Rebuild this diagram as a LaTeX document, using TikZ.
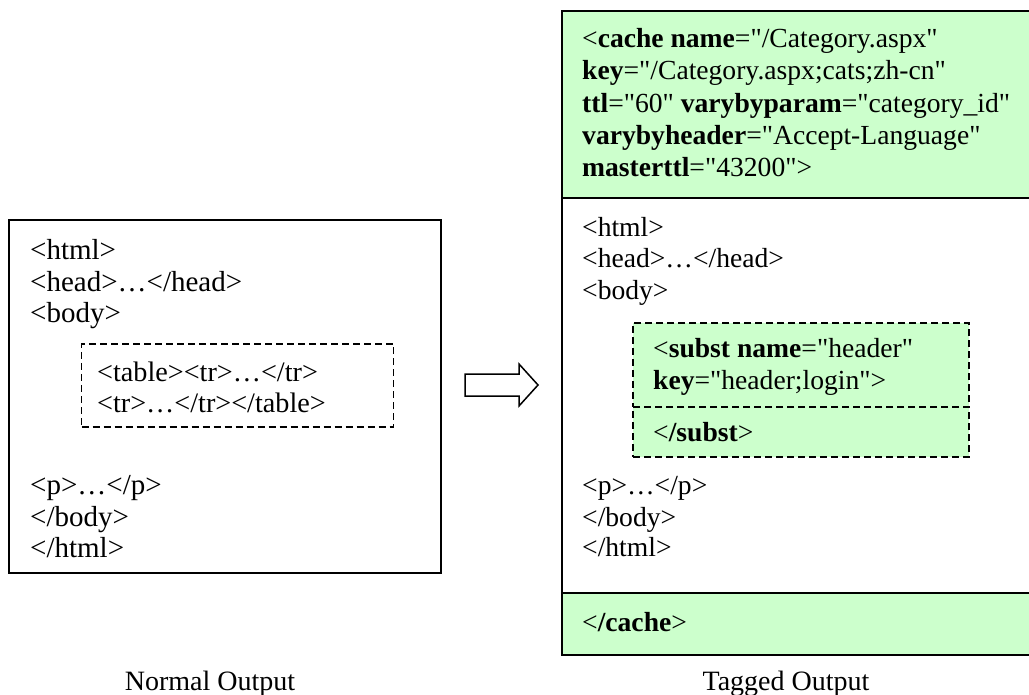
\documentclass[tikz,border=0pt]{standalone}
\usepackage{fontspec}
\setmainfont{Liberation Serif}[Ligatures=TeXOff]
\newcommand{\dq}{\symbol{34}}
\definecolor{tagfill}{HTML}{CCFFCC}
\tikzset{
  ln/.style={anchor=base west, inner sep=0pt, font=\fontsize{29}{31.5}\selectfont},
  lnsmall/.style={anchor=base west, inner sep=0pt, font=\fontsize{28.2}{31}\selectfont},
  lnright/.style={anchor=base west, inner sep=0pt, font=\fontsize{27.6}{32}\selectfont},
  captext/.style={anchor=base, inner sep=0pt, font=\fontsize{28}{30}\selectfont},
  solidbox/.style={draw=black, line width=1.5pt, inner sep=0pt},
  dashbox/.style={draw=black, line width=1.5pt, dash pattern=on 7pt off 4pt, inner sep=0pt},
  greenbox/.style={fill=tagfill, draw=black, line width=1.5pt, inner sep=0pt},
}
\begin{document}
\begin{tikzpicture}[x=1pt,y=-1pt]
\useasboundingbox (0,0) rectangle (1029,695);

% ---------- Left: Normal output ----------
\node[solidbox, minimum width=432pt, minimum height=353pt] (normal) at (225,396.5) {};
\node[dashbox, minimum width=312pt, minimum height=83pt] (table) at (237.5,385.5) {};
\node[ln] (n1) at (30,259.5) {<html>};
\node[ln] (n2) at (30,291.5) {<head>…</head>};
\node[ln] (n3) at (30,322.5) {<body>};
\node[lnsmall] (t1) at (97,381.5) {<table><tr>…</tr>};
\node[lnsmall] (t2) at (97,412.5) {<tr>…</tr></table>};
\node[ln] (n4) at (30,494.5) {<p>…</p>};
\node[ln] (n5) at (30,526.5) {</body>};
\node[ln] (n6) at (30,557.5) {</html>};
\node[captext] (capn) at (210,690) {Normal Output};

% ---------- Arrow ----------
\draw[line width=1.5pt, fill=white, line join=miter]
  (465,374) -- (519,374) -- (519,364) -- (538,385) -- (519,406) -- (519,396) -- (465,396) -- cycle;

% ---------- Right: Tagged output ----------
\node[solidbox, minimum width=475pt, minimum height=644pt] (tagged) at (799.5,333) {};
\node[greenbox, minimum width=475pt, minimum height=187pt] (cachetop) at (799.5,104.5) {};
\node[greenbox, minimum width=475pt, minimum height=62pt] (cachebot) at (799.5,624) {};
\node[lnright] (c1) at (582,47.5) {<\textbf{cache name}=\dq/Category.aspx\dq};
\node[lnright] (c2) at (582,79.5) {\textbf{key}=\dq/Category.aspx;cats;zh-cn\dq};
\node[lnright] (c3) at (582,112.5) {\textbf{ttl}=\dq60\dq\ \textbf{varybyparam}=\dq category\_id\dq};
\node[lnright] (c4) at (582,144.5) {\textbf{varybyheader}=\dq Accept-Language\dq};
\node[lnright] (c5) at (582,176.5) {\textbf{masterttl}=\dq43200\dq>};

\node[lnright] (h1) at (582,236.5) {<html>};
\node[lnright] (h2) at (582,267.5) {<head>…</head>};
\node[lnright] (h3) at (582,299.5) {<body>};

\node[dashbox, fill=tagfill, minimum width=336pt, minimum height=84pt] (substtop) at (801,365) {};
\node[dashbox, fill=tagfill, minimum width=336pt, minimum height=50pt] (substbot) at (801,432) {};
\node[lnright] (s1) at (653,357.5) {<\textbf{subst name}=\dq header\dq};
\node[lnright] (s2) at (653,389.5) {\textbf{key}=\dq header;login\dq>};
\node[lnright] (s3) at (653,441.5) {<\textbf{/subst}>};

\node[lnright] (h4) at (582,494.5) {<p>…</p>};
\node[lnright] (h5) at (582,526.5) {</body>};
\node[lnright] (h6) at (582,556.5) {</html>};
\node[lnright] (e1) at (582,631.5) {<\textbf{/cache}>};

\node[captext] (capt) at (786,690) {Tagged Output};
\end{tikzpicture}
\end{document}
